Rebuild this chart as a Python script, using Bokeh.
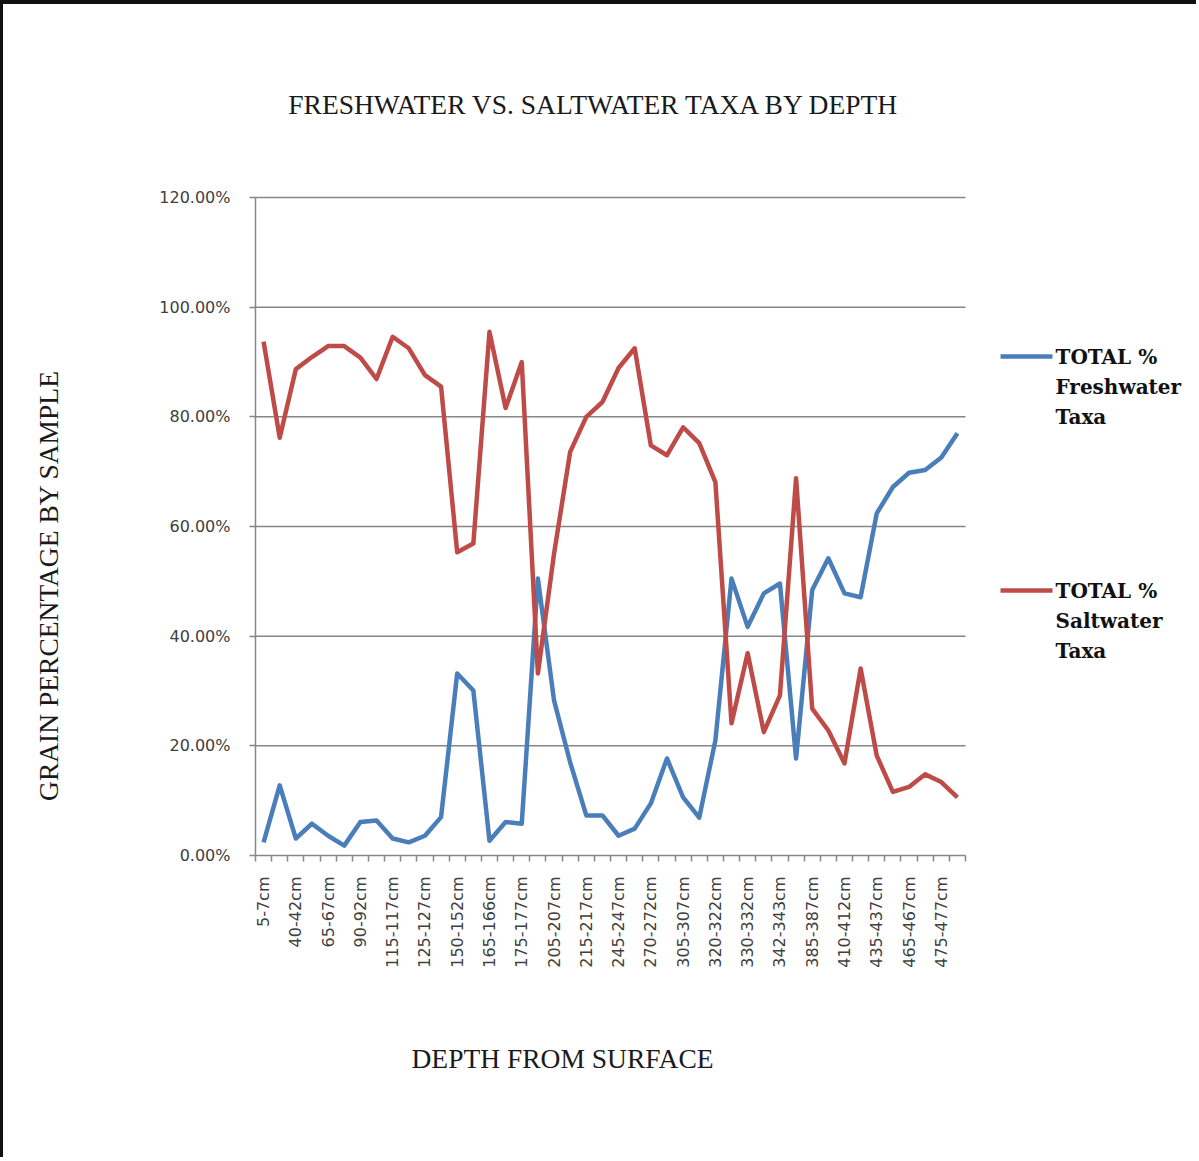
from math import pi

from bokeh.core.properties import value
from bokeh.embed import file_html
from bokeh.models import FixedTicker, Label, LinearAxis, PrintfTickFormatter, Range1d
from bokeh.plotting import figure
from bokeh.resources import INLINE

# Sample depths (only every other sample carries a label on the axis)
depth_labels = [
    "5-7cm", "40-42cm", "65-67cm", "90-92cm", "115-117cm", "125-127cm",
    "150-152cm", "165-166cm", "175-177cm", "205-207cm", "215-217cm",
    "245-247cm", "270-272cm", "305-307cm", "320-322cm", "330-332cm",
    "342-343cm", "385-387cm", "410-412cm", "435-437cm", "465-467cm",
    "475-477cm",
]

# Percentage of grains per sample, in sample order (44 samples)
freshwater_pct = [
    2.4, 12.8, 3.1, 5.8, 3.6, 1.8, 6.1, 6.4, 3.1, 2.4, 3.6, 7.0,
    33.2, 30.1, 2.7, 6.1, 5.8, 50.5, 28.3, 17.0, 7.3, 7.3, 3.6, 4.9,
    9.5, 17.7, 10.6, 6.9, 21.0, 50.5, 41.7, 47.8, 49.6, 17.7, 48.4, 54.2,
    47.8, 47.1, 62.4, 67.2, 69.8, 70.3, 72.6, 77.0,
]
saltwater_pct = [
    93.7, 76.2, 88.7, 90.9, 92.9, 92.9, 90.8, 86.9, 94.6, 92.5, 87.6, 85.5,
    55.3, 56.9, 95.5, 81.6, 90.0, 33.2, 55.0, 73.6, 80.0, 82.7, 88.9, 92.5,
    74.8, 73.0, 78.1, 75.2, 68.1, 24.1, 36.9, 22.5, 29.2, 68.8, 26.8, 22.8,
    16.8, 34.1, 18.2, 11.6, 12.5, 14.8, 13.4, 10.6,
]

y_ticks = [0, 20, 40, 60, 80, 100, 120]

series_names = ["TOTAL %\nFreshwater\nTaxa", "TOTAL %\nSaltwater\nTaxa"]
series_colors = ["#4A7EBB", "#BE4B48"]

n = len(freshwater_pct)

# ---- page geometry (pixels) ----
# The frame fills the whole canvas; both axes sit at fixed data locations inside it.
BORDER_L, BORDER_T = 3, 4
W, H = 1199 - BORDER_L, 1161 - BORDER_T
ORIGIN_X, ORIGIN_Y = 255, 855        # page position of (0, 0%)
PX_PER_CAT = 710 / n                 # category width
PX_PER_PCT = (855 - 197) / 120.0


def px_x(px):
    return (px - ORIGIN_X) / PX_PER_CAT


def px_y(py):
    return (ORIGIN_Y - py) / PX_PER_PCT


x_range = Range1d(px_x(BORDER_L), px_x(1199))
y_range = Range1d(px_y(1161), px_y(BORDER_T))

p = figure(
    width=W, height=H, x_range=x_range, y_range=y_range,
    output_backend="svg", toolbar_location=None,
    min_border_left=0, min_border_right=0, min_border_top=0, min_border_bottom=0,
    background_fill_color="white", border_fill_color="white",
    x_axis_location=None, y_axis_location=None,
    styles={"border-top": f"{BORDER_T}px solid #111", "border-left": f"{BORDER_L}px solid #111"},
)
p.outline_line_color = None
p.xgrid.visible = False
p.ygrid.visible = False

AXIS_GREY = "#868686"
TICK_FONT = "DejaVu Sans"
SERIF = "Liberation Serif"
TITLE_COLOR = "#1a1a1a"

# horizontal gridlines, limited to the category area
grid_y = [t for t in y_ticks if t > 0]
p.segment(x0=[0] * len(grid_y), x1=[n] * len(grid_y), y0=grid_y, y1=grid_y,
          line_color=AXIS_GREY, line_width=1.5)

# data series
xs = [i + 0.5 for i in range(n)]
p.line(xs, freshwater_pct, line_color=series_colors[0], line_width=4.5, line_join="round")
p.line(xs, saltwater_pct, line_color=series_colors[1], line_width=4.5, line_join="round")

# x axis: labels at every other sample, tick marks on category boundaries
label_ticks = [i + 0.5 for i in range(0, n, 2)]
xa = LinearAxis(fixed_location=0)
xa.ticker = FixedTicker(ticks=label_ticks, minor_ticks=list(range(n + 1)))
xa.major_label_overrides = {t: lab for t, lab in zip(label_ticks, depth_labels)}
xa.bounds = (0, n)
xa.major_label_orientation = pi / 2
xa.major_tick_out = 0
xa.major_tick_in = 0
xa.minor_tick_out = 6
xa.minor_tick_in = 0
xa.minor_tick_line_color = AXIS_GREY
xa.minor_tick_line_width = 1.5
xa.axis_line_color = AXIS_GREY
xa.axis_line_width = 1.5
xa.major_label_standoff = 15
xa.major_label_text_font = TICK_FONT
xa.major_label_text_font_size = "16px"
xa.major_label_text_color = "#404040"
p.add_layout(xa, "below")

# y axis
ya = LinearAxis(fixed_location=0)
ya.ticker = FixedTicker(ticks=y_ticks, minor_ticks=[])
ya.formatter = PrintfTickFormatter(format="%.2f%%")
ya.bounds = (0, 120)
ya.major_tick_out = 6
ya.major_tick_in = 0
ya.major_tick_line_color = AXIS_GREY
ya.major_tick_line_width = 1.5
ya.axis_line_color = AXIS_GREY
ya.axis_line_width = 1.5
ya.major_label_standoff = 19
ya.major_label_text_font = TICK_FONT
ya.major_label_text_font_size = "16px"
ya.major_label_text_color = "#404040"
p.add_layout(ya, "left")

# titles
p.add_layout(Label(x=px_x(594), y=px_y(104), text="FRESHWATER VS. SALTWATER TAXA BY DEPTH",
                   text_font=SERIF, text_font_size="27.5px", text_color=TITLE_COLOR,
                   text_align="center", text_baseline="middle"))
p.add_layout(Label(x=px_x(48), y=px_y(585), text="GRAIN PERCENTAGE BY SAMPLE", angle=pi / 2,
                   text_font=SERIF, text_font_size="27.5px", text_color=TITLE_COLOR,
                   text_align="center", text_baseline="middle"))
p.add_layout(Label(x=px_x(562), y=px_y(1058), text="DEPTH FROM SURFACE",
                   text_font=SERIF, text_font_size="27.5px", text_color=TITLE_COLOR,
                   text_align="center", text_baseline="middle"))

# legend: swatch line plus three bold lines of text per series
legend_tops = [356, 590]
for name, color, top in zip(series_names, series_colors, legend_tops):
    p.line([px_x(1000), px_x(1052)], [px_y(top), px_y(top)], line_color=color, line_width=4.5)
    lines = name.split("\n")
    p.text(x=[px_x(1055)] * len(lines), y=[px_y(top + 30 * k) for k in range(len(lines))],
           text=lines, text_font=value("DejaVu Serif"), text_font_style="bold",
           text_font_size="20px", text_color="#111111",
           text_align="left", text_baseline="middle")

open("out.html", "w").write(file_html(p, INLINE))
